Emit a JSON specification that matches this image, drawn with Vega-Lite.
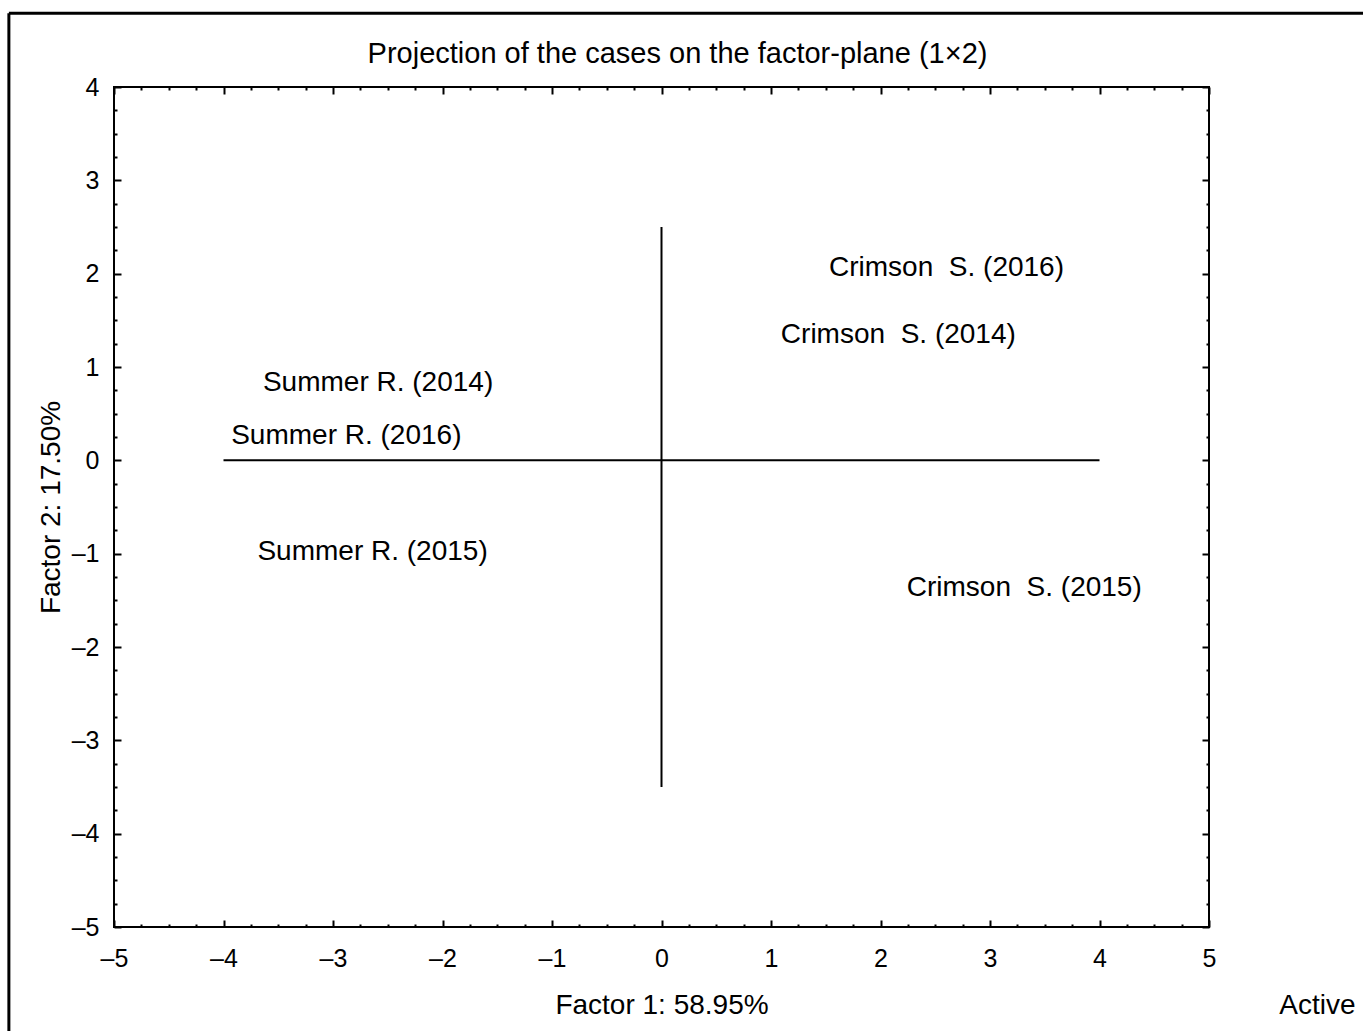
{
  "$schema": "https://vega.github.io/schema/vega-lite/v6.json",
  "autosize": {"type": "none"},
  "width": 1095,
  "height": 840,
  "padding": {"left": 114, "top": 87, "right": 154, "bottom": 104},
  "background": "white",
  "config": {
    "font": "Liberation Sans",
    "view": {"stroke": "black", "strokeWidth": 2},
    "axis": {"domain": false, "grid": false, "labelColor": "black", "titleColor": "black", "tickColor": "black", "labelFont": "Liberation Sans", "titleFont": "Liberation Sans", "titleFontWeight": "normal"}
  },
  "title": {"text": "Projection of the cases on the factor-plane (1×2)", "fontSize": 29, "fontWeight": "normal", "color": "black", "anchor": "middle", "dx": 16, "offset": 24, "dy": 81},
  "datasets": {
    "cases": [
      {"case": "Summer R. (2014)", "f1": -3.64, "f2": 0.83},
      {"case": "Summer R. (2016)", "f1": -3.93, "f2": 0.26},
      {"case": "Summer R. (2015)", "f1": -3.69, "f2": -0.98},
      {"case": "Crimson\u00a0 S. (2016)", "f1": 1.53, "f2": 2.06},
      {"case": "Crimson\u00a0 S. (2014)", "f1": 1.09, "f2": 1.34},
      {"case": "Crimson\u00a0 S. (2015)", "f1": 2.24, "f2": -1.37}
    ],
    "hline": [{"x1": -4, "x2": 4, "y": 0}],
    "vline": [{"x": 0, "y1": 2.5, "y2": -3.5}],
    "frameTop": [{"x1": -5.96, "x2": 7, "y": 4.79}],
    "frameLeft": [{"x": -5.96, "y1": 4.79, "y2": -6.5}],
    "note": [{"label": "Active", "x": 5.99, "y": -5.85}]
  },
  "resolve": {"scale": {"x": "shared", "y": "shared"}, "axis": {"x": "independent", "y": "independent"}},
  "layer": [
    {
      "data": {"name": "cases"},
      "mark": {"type": "text", "align": "left", "baseline": "middle", "fontSize": 28, "color": "black", "font": "Liberation Sans"},
      "encoding": {
        "x": {"field": "f1", "type": "quantitative", "scale": {"domain": [-5, 5], "nice": false, "zero": false},
          "axis": {"orient": "bottom", "title": "Factor 1: 58.95%", "titleFontSize": 28, "titlePadding": 20, "labelFontSize": 25, "labelPadding": 26, "labelFlush": false,
            "values": [-5,-4.75,-4.5,-4.25,-4,-3.75,-3.5,-3.25,-3,-2.75,-2.5,-2.25,-2,-1.75,-1.5,-1.25,-1,-0.75,-0.5,-0.25,0,0.25,0.5,0.75,1,1.25,1.5,1.75,2,2.25,2.5,2.75,3,3.25,3.5,3.75,4,4.25,4.5,4.75,5],
            "labelExpr": "datum.value % 1 === 0 ? (datum.value < 0 ? '–' + abs(datum.value) : '' + datum.value) : ''",
            "tickSize": {"condition": {"test": "datum.value % 1 === 0", "value": -7}, "value": -3},
            "tickWidth": 2}},
        "y": {"field": "f2", "type": "quantitative", "scale": {"domain": [-5, 4], "nice": false, "zero": false},
          "axis": {"orient": "left", "title": "Factor 2: 17.50%", "titleFontSize": 28, "titlePadding": 6, "labelFontSize": 25, "labelPadding": 22, "labelFlush": false,
            "values": [-5,-4.75,-4.5,-4.25,-4,-3.75,-3.5,-3.25,-3,-2.75,-2.5,-2.25,-2,-1.75,-1.5,-1.25,-1,-0.75,-0.5,-0.25,0,0.25,0.5,0.75,1,1.25,1.5,1.75,2,2.25,2.5,2.75,3,3.25,3.5,3.75,4],
            "labelExpr": "datum.value % 1 === 0 ? (datum.value < 0 ? '–' + abs(datum.value) : '' + datum.value) : ''",
            "tickSize": {"condition": {"test": "datum.value % 1 === 0", "value": -7}, "value": -3},
            "tickWidth": 2}},
        "text": {"field": "case", "type": "nominal"}
      }
    },
    {
      "data": {"name": "hline"},
      "mark": {"type": "rule", "color": "black", "strokeWidth": 2},
      "encoding": {
        "x": {"field": "x1", "type": "quantitative", "scale": {"domain": [-5, 5], "nice": false, "zero": false},
          "axis": {"orient": "top", "title": null, "labels": false,
            "values": [-5,-4.75,-4.5,-4.25,-4,-3.75,-3.5,-3.25,-3,-2.75,-2.5,-2.25,-2,-1.75,-1.5,-1.25,-1,-0.75,-0.5,-0.25,0,0.25,0.5,0.75,1,1.25,1.5,1.75,2,2.25,2.5,2.75,3,3.25,3.5,3.75,4,4.25,4.5,4.75,5],
            "tickSize": {"condition": {"test": "datum.value % 1 === 0", "value": -7}, "value": -3},
            "tickWidth": 2}},
        "x2": {"field": "x2"},
        "y": {"field": "y", "type": "quantitative", "scale": {"domain": [-5, 4], "nice": false, "zero": false},
          "axis": {"orient": "right", "title": null, "labels": false,
            "values": [-5,-4.75,-4.5,-4.25,-4,-3.75,-3.5,-3.25,-3,-2.75,-2.5,-2.25,-2,-1.75,-1.5,-1.25,-1,-0.75,-0.5,-0.25,0,0.25,0.5,0.75,1,1.25,1.5,1.75,2,2.25,2.5,2.75,3,3.25,3.5,3.75,4],
            "tickSize": {"condition": {"test": "datum.value % 1 === 0", "value": -7}, "value": -3},
            "tickWidth": 2}}
      }
    },
    {
      "data": {"name": "vline"},
      "mark": {"type": "rule", "color": "black", "strokeWidth": 2},
      "encoding": {
        "x": {"field": "x", "type": "quantitative", "axis": null},
        "y": {"field": "y1", "type": "quantitative", "axis": null},
        "y2": {"field": "y2"}
      }
    },
    {
      "data": {"name": "frameTop"},
      "mark": {"type": "rule", "color": "black", "strokeWidth": 3},
      "encoding": {
        "x": {"field": "x1", "type": "quantitative", "axis": null},
        "x2": {"field": "x2"},
        "y": {"field": "y", "type": "quantitative", "axis": null}
      }
    },
    {
      "data": {"name": "frameLeft"},
      "mark": {"type": "rule", "color": "black", "strokeWidth": 3},
      "encoding": {
        "x": {"field": "x", "type": "quantitative", "axis": null},
        "y": {"field": "y1", "type": "quantitative", "axis": null},
        "y2": {"field": "y2"}
      }
    },
    {
      "data": {"name": "note"},
      "mark": {"type": "text", "align": "center", "baseline": "middle", "fontSize": 28, "color": "black", "font": "Liberation Sans"},
      "encoding": {
        "x": {"field": "x", "type": "quantitative", "axis": null},
        "y": {"field": "y", "type": "quantitative", "axis": null},
        "text": {"field": "label", "type": "nominal"}
      }
    }
  ]
}
